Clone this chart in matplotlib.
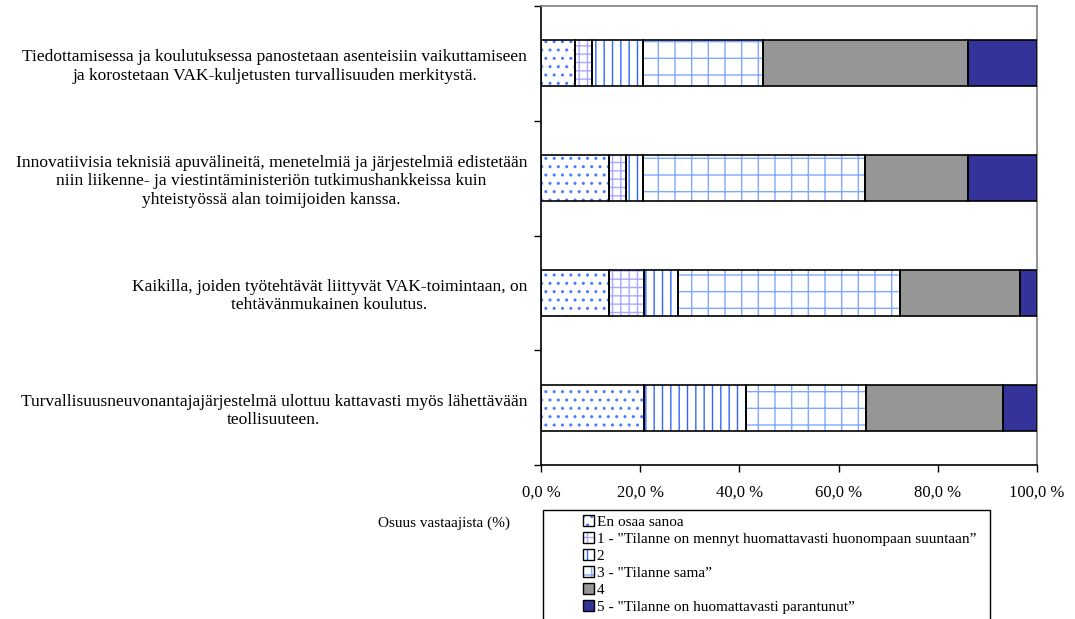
import matplotlib
matplotlib.use("Agg")
import matplotlib.pyplot as plt
from matplotlib.patches import Patch, Rectangle
from matplotlib.legend_handler import HandlerTuple

plt.rcParams["font.family"] = ["Liberation Serif", "DejaVu Serif"]
plt.rcParams["hatch.linewidth"] = 1.0

# Survey statements (top to bottom)
categories = [
    "Tiedottamisessa ja koulutuksessa panostetaan asenteisiin vaikuttamiseen\n"
    "ja korostetaan VAK-kuljetusten turvallisuuden merkitystä.",
    "Innovatiivisia teknisiä apuvälineitä, menetelmiä ja järjestelmiä edistetään\n"
    "niin liikenne- ja viestintäministeriön tutkimushankkeissa kuin\n"
    "yhteistyössä alan toimijoiden kanssa.",
    "Kaikilla, joiden työtehtävät liittyvät VAK-toimintaan, on\n"
    "tehtävänmukainen koulutus.",
    "Turvallisuusneuvonantajajärjestelmä ulottuu kattavasti myös lähettävään\n"
    "teollisuuteen.",
]

# Share of respondents (%) per answer option, one value per statement
en_osaa = [6.9, 13.8, 13.8, 20.7]
vast_1 = [3.4, 3.4, 6.9, 0.0]
vast_2 = [10.3, 3.4, 6.9, 20.7]
vast_3 = [24.1, 44.8, 44.8, 24.1]
vast_4 = [41.4, 20.7, 24.1, 27.6]
vast_5 = [13.8, 13.8, 3.4, 6.9]

series_labels = [
    "En osaa sanoa",
    "1 - \"Tilanne on mennyt huomattavasti huonompaan suuntaan\u201d",
    "2",
    "3 - \"Tilanne sama\u201d",
    "4",
    "5 - \"Tilanne on huomattavasti parantunut\u201d",
]

x_ticks = [0, 20, 40, 60, 80, 100]
x_tick_labels = ["0,0 %", "20,0 %", "40,0 %", "60,0 %", "80,0 %", "100,0 %"]

# fill colour, hatch pattern, hatch colour for each answer option
styles = [
    ("white", "..", "#4a7bff"),
    ("white", "++", "#a8a8ff"),
    ("white", "||", "#3366ff"),
    ("white", "+", "#80a8ff"),
    ("#969696", None, None),
    ("#333399", None, None),
]

W, H = 1075, 619
fig = plt.figure(figsize=(W / 100, H / 100), dpi=100)
ax = fig.add_axes([541 / W, 1 - 465 / H, (1037 - 541) / W, (465 - 6) / H])

series = [en_osaa, vast_1, vast_2, vast_3, vast_4, vast_5]
ypos = list(range(len(categories)))
left = [0.0] * len(categories)
legend_handles = []
for vals, (fc, hatch, hc), lab in zip(series, styles, series_labels):
    if hatch:
        ax.barh(ypos, vals, left=left, height=0.4, color=fc, hatch=hatch,
                edgecolor=hc, linewidth=0, zorder=2)
        fill = Patch(facecolor=fc, hatch=hatch, edgecolor=hc, linewidth=0)
    else:
        ax.barh(ypos, vals, left=left, height=0.4, color=fc, linewidth=0, zorder=2)
        fill = Patch(facecolor=fc, linewidth=0)
    ax.barh(ypos, vals, left=left, height=0.4, fill=False,
            edgecolor="black", linewidth=1.2, zorder=3)
    outline = Patch(facecolor="none", edgecolor="black", linewidth=1.0)
    legend_handles.append((fill, outline))
    left = [a + b for a, b in zip(left, vals)]

ax.set_xlim(0, 100)
ax.set_ylim(len(categories) - 0.5, -0.5)

ax.set_xticks(x_ticks)
ax.set_xticklabels(x_tick_labels, fontsize=12)
ax.tick_params(axis="x", direction="out", length=5, width=1, pad=9)

ax.set_yticks(ypos)
ax.set_yticklabels(categories, fontsize=12.55)
ax.tick_params(axis="y", which="major", length=0, pad=10)
for t in ax.get_yticklabels():
    t.set_multialignment("center")
ax.set_yticks([i - 0.5 for i in range(len(categories) + 1)], minor=True)
ax.tick_params(axis="y", which="minor", direction="out", length=5, width=1)

for side in ("top", "right"):
    ax.spines[side].set_color("#808080")
    ax.spines[side].set_linewidth(1.2)
for side in ("left", "bottom"):
    ax.spines[side].set_color("black")
    ax.spines[side].set_linewidth(1.2)

fig.text(510 / W, 1 - 523 / H, "Osuus vastaajista (%)", ha="right", va="center",
         fontsize=11)

# legend frame running past the lower edge of the figure
fig.patches.append(Rectangle((543 / W, -0.05), (990 - 543) / W, (1 - 510 / H) + 0.05,
                             transform=fig.transFigure, fill=False,
                             edgecolor="black", linewidth=1.0))
fig.legend(legend_handles, series_labels,
           handler_map={tuple: HandlerTuple(ndivide=1, pad=0)},
           loc="upper left", bbox_to_anchor=(583 / W, 1 - 515 / H),
           frameon=False, fontsize=11, labelspacing=0.21,
           handlelength=0.72, handleheight=0.72, handletextpad=0.18,
           borderpad=0, borderaxespad=0)

fig.savefig("out.png", dpi=100)
